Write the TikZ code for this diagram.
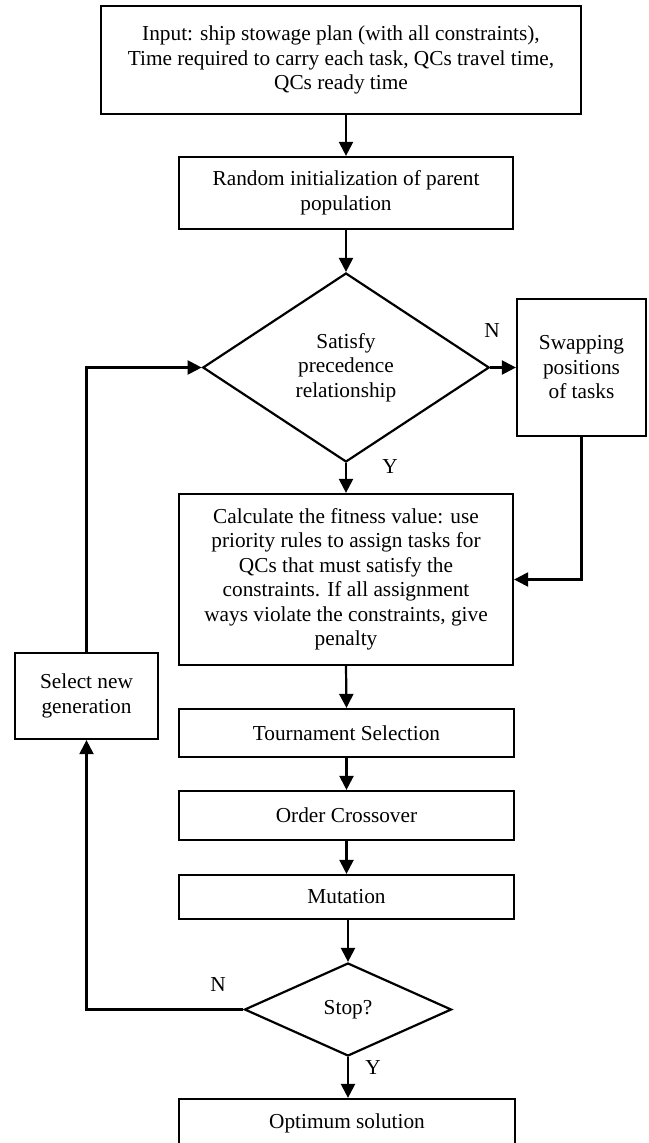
\documentclass[tikz,border=0pt]{standalone}
\usepackage{fontspec}
\setmainfont{Liberation Serif}
\usetikzlibrary{arrows.meta,shapes.geometric}
\begin{document}
\begin{tikzpicture}[x=1pt,y=-1pt,
  every node/.style={font=\fontsize{21.3}{24.5}\selectfont},
  box/.style={draw, line width=2.2pt, inner sep=0pt, align=center},
  dia/.style={draw, diamond, line width=2.2pt, inner sep=0pt, align=center},
  arr/.style={line width=2.2pt, -{Triangle[length=14pt,width=14pt]}},
  lbl/.style={inner sep=0pt}]
\path[use as bounding box, clip] (0,0) rectangle (648,1143);
\fill[white] (0,0) rectangle (648,1143);
\node[box, minimum width=480pt, minimum height=108pt] (input) at (341,60)
  {Input: ship stowage plan (with all constraints),\\Time required to carry each task, QCs travel time,\\QCs ready time};
\node[box, minimum width=334.5pt, minimum height=72pt] (rand) at (346,193)
  {Random initialization of parent\\population};
\node[dia, minimum width=286.5pt, minimum height=189pt] (d1) at (346,367.5)
  {Satisfy\\precedence\\relationship};
\node[box, minimum width=129pt, minimum height=137pt] (swap) at (581.5,367.5)
  {Swapping\\positions\\of tasks};
\node[box, minimum width=334pt, minimum height=171pt] (calc) at (346,579.5)
  {Calculate the fitness value: use\\priority rules to assign tasks for\\QCs that must satisfy the\\constraints. If all assignment\\ways violate the constraints, give\\penalty};
\node[box, minimum width=143pt, minimum height=86pt] (sel) at (86.5,696)
  {Select new\\generation};
\node[box, minimum width=335pt, minimum height=48pt] (tour) at (346.5,733)
  {Tournament Selection};
\node[box, minimum width=335pt, minimum height=49pt] (order) at (346.5,815.5)
  {Order Crossover};
\node[box, minimum width=335pt, minimum height=44pt] (mut) at (346.5,897)
  {Mutation};
\node[dia, minimum width=207pt, minimum height=93pt] (stop) at (348,1009.5)
  {Stop?};
\node[box, minimum width=336pt, minimum height=70pt] (opt) at (347,1134) {};
\node[lbl] (opttxt) at (347,1123) {Optimum solution};
\node[lbl] (n1) at (492,331) {N};
\node[lbl] (y1) at (390,467) {Y};
\node[lbl] (n2) at (218,985) {N};
\node[lbl] (y2) at (373,1068) {Y};
\draw[arr] (rand.north |- input.south) -- (rand.north);
\draw[arr] (rand.south) -- (d1.north);
\draw[arr] (d1.east) -- (swap.west);
\draw[arr] (d1.south) -- (calc.north);
\draw[arr] (swap.south) |- (calc.east);
\draw[arr] (calc.south) -- (tour.north);
\draw[arr] (tour.south) -- (order.north);
\draw[arr] (order.south) -- (mut.north);
\draw[arr] (mut.south -| stop.north) -- (stop.north);
\draw[arr] (stop.south) -- (opt.north -| stop.south);
\draw[arr] (stop.west) -| (sel.south);
\draw[arr] (sel.north) |- (d1.west);
\end{tikzpicture}
\end{document}
